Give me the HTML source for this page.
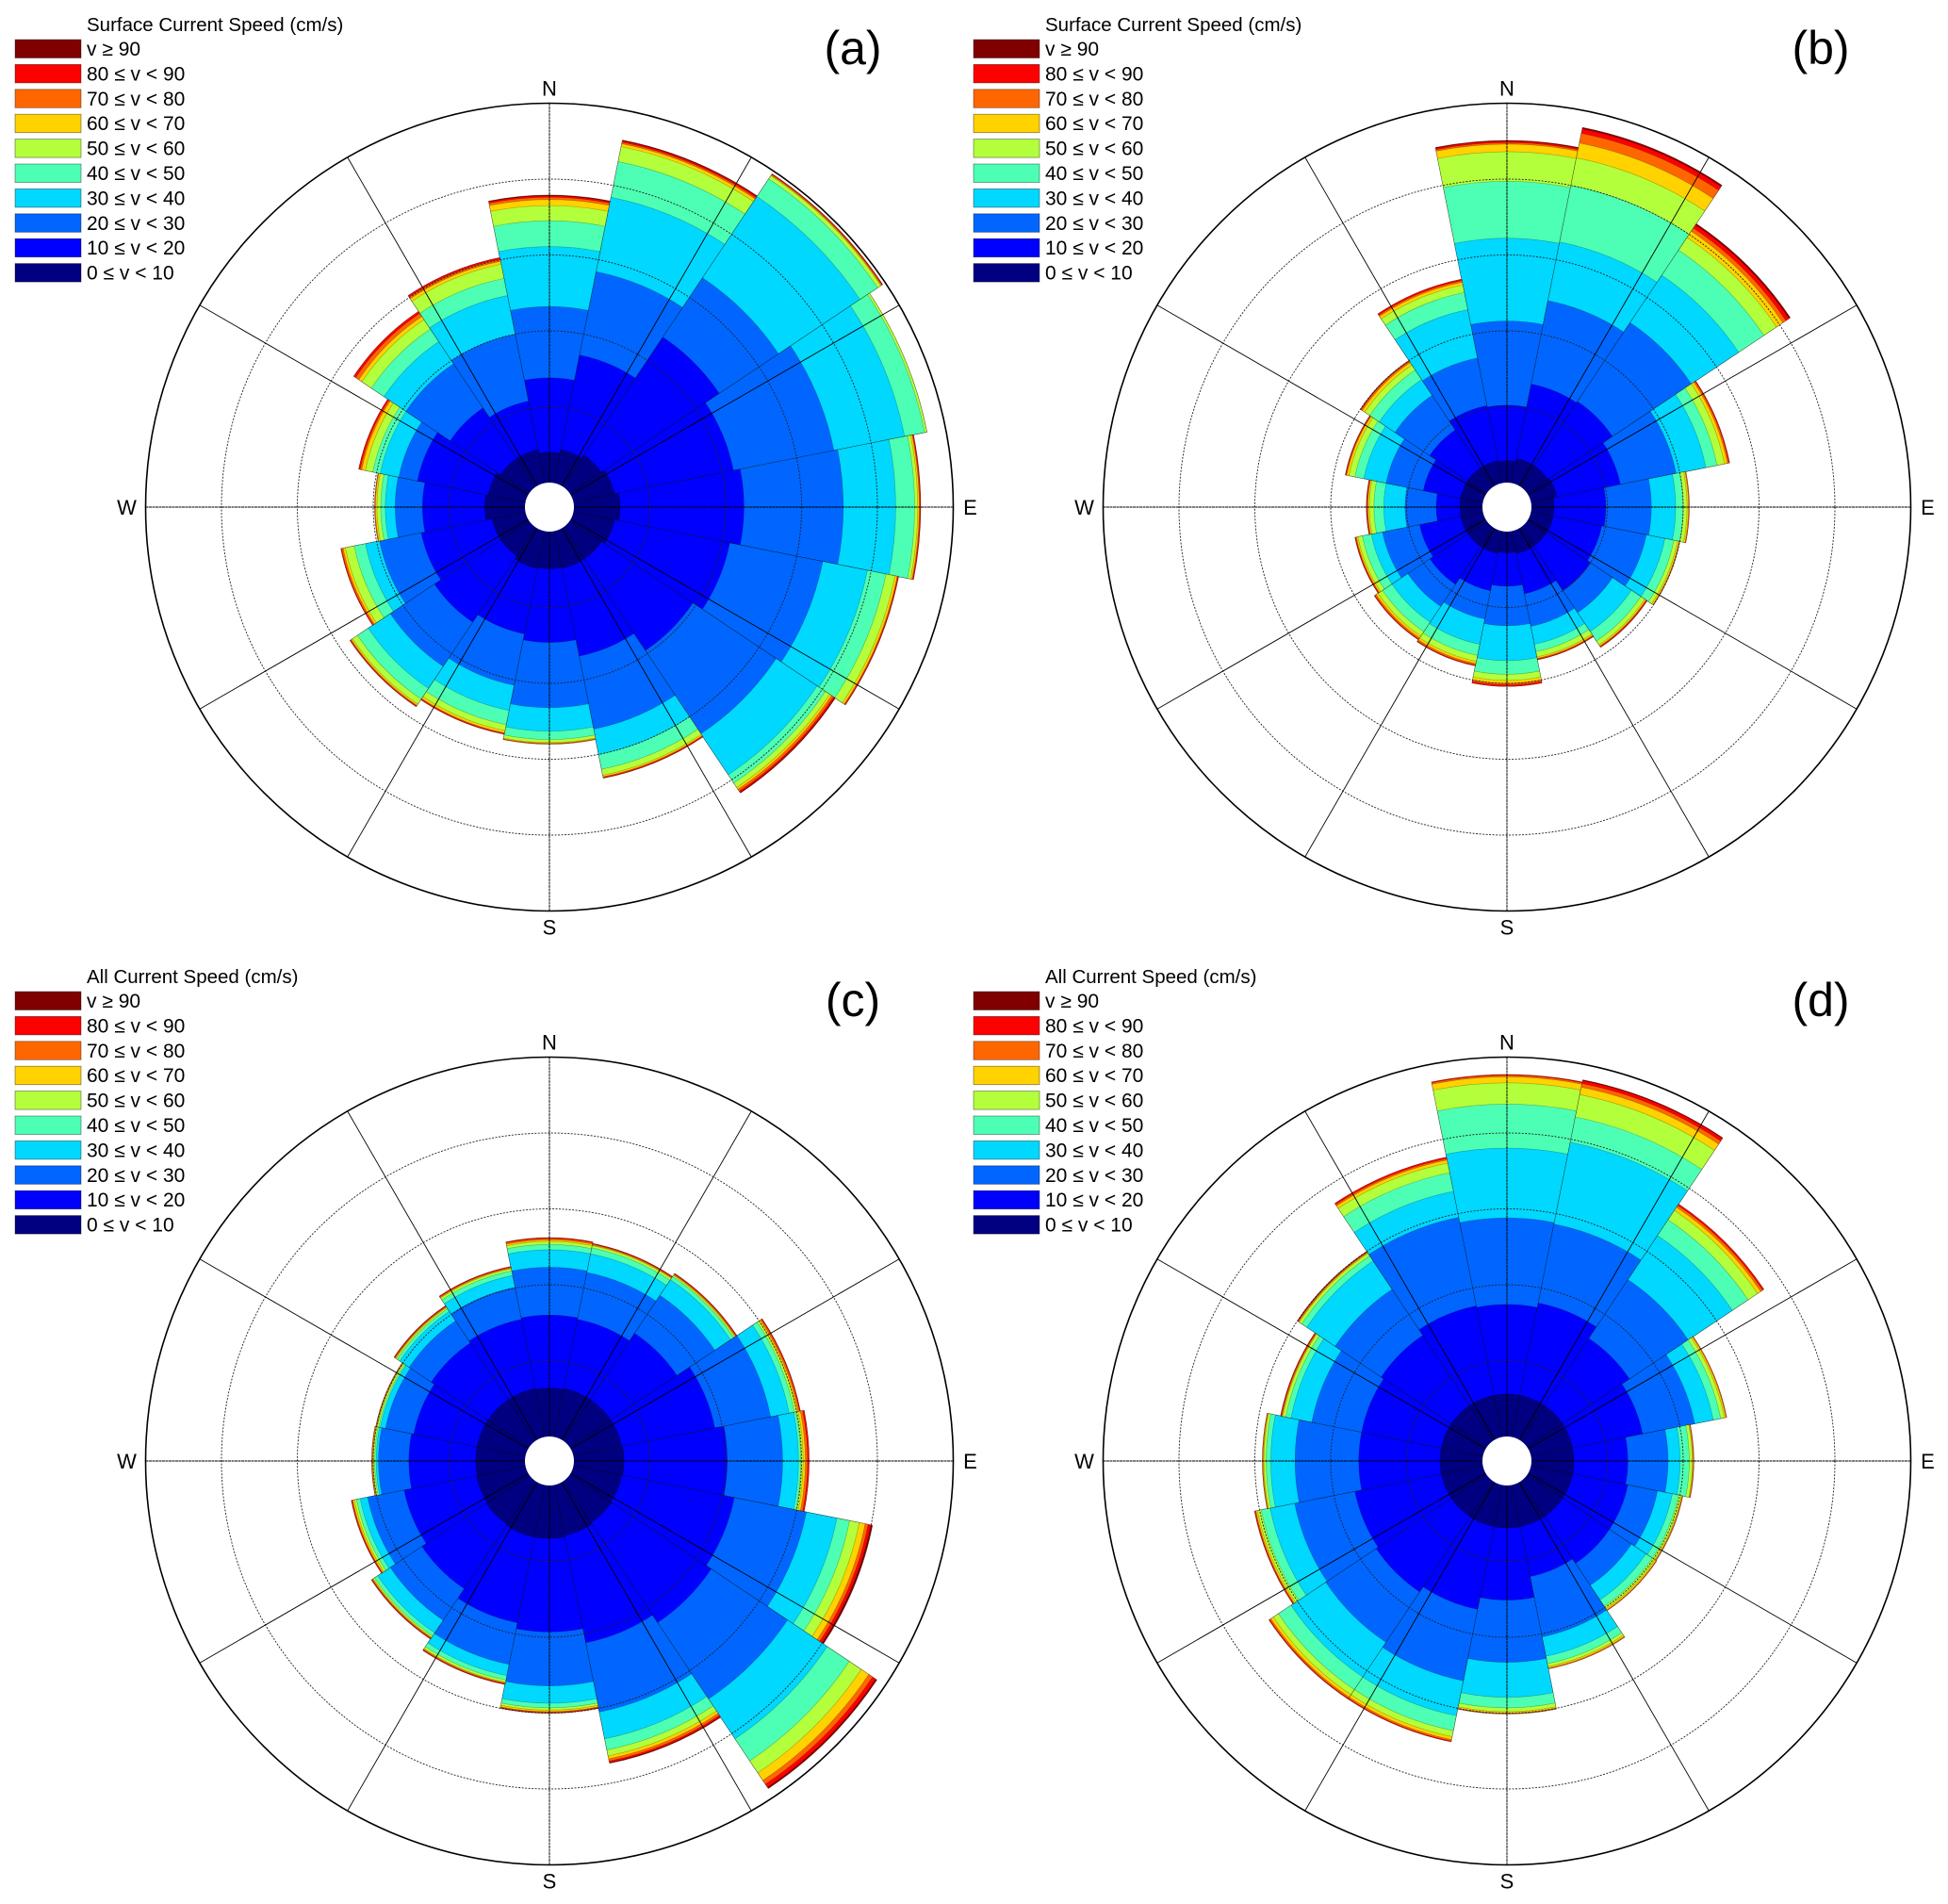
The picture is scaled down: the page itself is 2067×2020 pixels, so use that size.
<!DOCTYPE html>
<html><head><meta charset="utf-8"><style>
body{margin:0;background:#fff}
svg{display:block}
text{font-family:"Liberation Sans",Arial,sans-serif;fill:#000}
</style></head><body>
<svg id="fig" width="2067" height="2020" viewBox="0 0 2067 2020" xmlns="http://www.w3.org/2000/svg"></svg>
<script>
const directions = ["N","NNE","NE","ENE","E","ESE","SE","SSE","S","SSW","SW","WSW","W","WNW","NW","NNW"];
const speedClasses = ["0 \u2264 v < 10","10 \u2264 v < 20","20 \u2264 v < 30","30 \u2264 v < 40","40 \u2264 v < 50","50 \u2264 v < 60","60 \u2264 v < 70","70 \u2264 v < 80","80 \u2264 v < 90","v \u2265 90"];
const ringTicks = [1,2,3,4,5];
// cumulative frequency (ring units) per direction, per speed class
const panelA = [
[0.4,1.38,2.32,3.11,3.45,3.65,3.73,3.76,3.78,3.79],
[0.45,1.72,2.84,3.84,4.32,4.52,4.56,4.58,4.6,4.61],
[0.5,2.37,3.31,4.6,4.88,4.93,4.94,4.95,4.96,4.96],
[0.55,2.15,3.5,4.45,4.72,4.75,4.75,4.75,4.75,4.75],
[0.61,2.24,3.55,4.24,4.49,4.53,4.55,4.56,4.57,4.57],
[0.55,2.1,3.35,3.95,4.2,4.32,4.35,4.36,4.37,4.37],
[0.5,1.95,3.27,3.92,4.05,4.12,4.15,4.18,4.2,4.21],
[0.5,1.68,2.66,3.0,3.2,3.28,3.3,3.31,3.32,3.32],
[0.49,1.46,2.32,2.63,2.74,2.78,2.79,2.8,2.8,2.8],
[0.5,1.38,2.07,2.41,2.6,2.68,2.71,2.72,2.73,2.73],
[0.45,1.5,2.2,2.55,2.72,2.8,2.82,2.83,2.84,2.84],
[0.45,1.4,1.96,2.15,2.3,2.42,2.45,2.47,2.48,2.48],
[0.53,1.35,1.71,1.84,1.9,1.95,1.97,1.98,1.98,1.98],
[0.5,1.45,1.7,1.95,2.05,2.15,2.2,2.22,2.24,2.24],
[0.45,1.25,1.95,2.3,2.5,2.65,2.7,2.75,2.78,2.78],
[0.45,1.1,2.0,2.52,2.75,2.94,2.98,3.01,3.03,3.03]];
const panelB = [
[0.29,1.02,2.13,3.22,3.97,4.36,4.46,4.48,4.5,4.51],
[0.33,1.33,2.45,3.24,4.0,4.37,4.57,4.7,4.76,4.78],
[0.33,1.35,2.6,3.35,3.75,3.95,4.05,4.1,4.15,4.17],
[0.35,1.2,1.95,2.35,2.5,2.6,2.64,2.66,2.67,2.67],
[0.3,0.98,1.58,1.9,2.0,2.05,2.07,2.08,2.08,2.08],
[0.3,0.95,1.55,1.8,1.92,1.97,1.99,2.0,2.0,2.0],
[0.3,1.0,1.35,1.65,1.8,1.86,1.88,1.89,1.9,1.9],
[0.3,0.84,1.28,1.52,1.62,1.69,1.71,1.72,1.73,1.73],
[0.28,0.72,1.24,1.7,1.88,1.96,2.0,2.02,2.04,2.04],
[0.3,0.8,1.18,1.52,1.67,1.75,1.78,1.8,1.81,1.81],
[0.3,0.9,1.25,1.5,1.65,1.72,1.75,1.77,1.78,1.78],
[0.3,0.85,1.35,1.5,1.62,1.68,1.7,1.71,1.72,1.72],
[0.3,0.61,1.02,1.3,1.43,1.49,1.51,1.52,1.53,1.53],
[0.3,0.8,1.3,1.6,1.72,1.8,1.83,1.84,1.85,1.85],
[0.3,0.9,1.45,1.7,1.85,1.93,1.97,1.99,2.0,2.0],
[0.3,1.04,1.68,2.33,2.56,2.66,2.7,2.72,2.74,2.74]];
const panelC = [
[0.64,1.6,2.23,2.46,2.53,2.57,2.59,2.61,2.62,2.62],
[0.65,1.58,2.21,2.46,2.54,2.57,2.58,2.59,2.6,2.6],
[0.65,1.7,2.3,2.55,2.6,2.62,2.63,2.64,2.65,2.65],
[0.65,1.9,2.65,2.9,2.97,3.0,3.02,3.04,3.05,3.05],
[0.66,2.02,2.75,2.96,2.99,3.02,3.05,3.08,3.1,3.1],
[0.65,2.16,3.13,3.54,3.71,3.84,3.92,3.96,4.0,4.02],
[0.66,2.24,3.45,4.08,4.43,4.62,4.74,4.8,4.85,4.87],
[0.68,2.12,3.05,3.41,3.56,3.64,3.68,3.71,3.73,3.74],
[0.7,1.93,2.64,2.87,2.93,2.96,2.98,2.99,3.0,3.0],
[0.7,1.85,2.41,2.56,2.62,2.65,2.66,2.67,2.68,2.68],
[0.68,1.7,2.2,2.4,2.45,2.47,2.48,2.49,2.5,2.5],
[0.66,1.63,2.12,2.22,2.27,2.3,2.32,2.33,2.34,2.34],
[0.65,1.53,1.93,1.96,1.98,2.0,2.01,2.02,2.02,2.02],
[0.65,1.5,1.88,1.95,1.97,1.99,2.0,2.01,2.01,2.01],
[0.65,1.55,1.9,2.05,2.09,2.11,2.12,2.13,2.14,2.14],
[0.65,1.58,2.01,2.17,2.23,2.26,2.27,2.28,2.29,2.29]];
const panelD = [
[0.56,1.74,2.88,3.8,4.38,4.66,4.74,4.76,4.77,4.77],
[0.56,1.8,2.86,3.96,4.3,4.6,4.7,4.75,4.79,4.8],
[0.56,1.62,2.55,3.25,3.5,3.65,3.7,3.73,3.75,3.75],
[0.56,1.5,2.2,2.45,2.55,2.6,2.62,2.63,2.63,2.63],
[0.56,1.27,1.8,1.96,2.08,2.12,2.13,2.14,2.14,2.14],
[0.56,1.3,1.7,1.9,1.98,2.02,2.03,2.04,2.04,2.04],
[0.56,1.3,1.65,1.88,1.98,2.02,2.04,2.05,2.05,2.05],
[0.56,1.23,2.04,2.3,2.4,2.44,2.46,2.47,2.47,2.47],
[0.56,1.51,2.33,2.79,2.93,2.98,3.0,3.01,3.01,3.01],
[0.56,1.67,2.63,3.1,3.3,3.38,3.42,3.44,3.45,3.45],
[0.56,1.75,2.55,3.1,3.3,3.38,3.42,3.44,3.45,3.45],
[0.56,1.72,2.53,2.86,2.98,3.03,3.05,3.06,3.07,3.07],
[0.56,1.63,2.47,2.79,2.85,2.88,2.89,2.9,2.9,2.9],
[0.56,1.63,2.3,2.58,2.65,2.69,2.7,2.71,2.72,2.72],
[0.56,1.67,2.4,2.85,2.93,2.97,2.98,2.99,3.0,3.0],
[0.56,1.76,2.95,3.3,3.55,3.68,3.72,3.74,3.76,3.76]];
const panelTitles = ["Surface Current Speed (cm/s)","Surface Current Speed (cm/s)","All Current Speed (cm/s)","All Current Speed (cm/s)"];
const panelLetters = ["(a)","(b)","(c)","(d)"];
const colors = ["#000080","#0000ff","#0066ff","#00d8ff","#4dffb4","#b4ff3c","#ffd200","#ff6600","#ff0000","#800000"];

const NS="http://www.w3.org/2000/svg";
const svg=document.getElementById('fig');
function mk(tag,attrs,parent){const e=document.createElementNS(NS,tag);for(const k in attrs)e.setAttribute(k,attrs[k]);(parent||svg).appendChild(e);return e;}
const HOLE=26, STEP=80.5, WIDTH=22.5;
function rScale(v){return HOLE+v*STEP;}
function pt(r,deg){const a=deg*Math.PI/180;return [r*Math.sin(a),-r*Math.cos(a)];}
function sector(r0,r1,a0,a1){
  const p0=pt(r0,a0),p1=pt(r1,a0),p2=pt(r1,a1),p3=pt(r0,a1);
  return `M${p0[0]},${p0[1]}L${p1[0]},${p1[1]}A${r1},${r1} 0 0 1 ${p2[0]},${p2[1]}L${p3[0]},${p3[1]}A${r0},${r0} 0 0 0 ${p0[0]},${p0[1]}Z`;
}
const panels=[
 {data:panelA,cx:583,cy:538,lx:16,ly:0,letterX:905},
 {data:panelB,cx:1599,cy:538,lx:1033,ly:0,letterX:1932},
 {data:panelC,cx:583,cy:1550,lx:16,ly:1010,letterX:905},
 {data:panelD,cx:1599,cy:1550,lx:1033,ly:1010,letterX:1932}];
panels.forEach((p,pi)=>{
  const g=mk('g',{transform:`translate(${p.cx},${p.cy})`});
  
  
  const outer=rScale(5);
  mk('circle',{cx:0,cy:0,r:outer,fill:'#fff',stroke:'none'},g);
  p.data.forEach((cum,di)=>{
    const ang=di*22.5;
    for(let k=cum.length-1;k>=0;k--){
      const r1=rScale(cum[k]);
      const path=mk('path',{d:sector(HOLE,r1,ang-WIDTH/2,ang+WIDTH/2),fill:colors[k],stroke:'rgba(0,0,0,0.3)','stroke-width':0.6},g);
      
      
    }
  });
  ringTicks.forEach(t=>{
    const c=mk('circle',{cx:0,cy:0,r:rScale(t),fill:'none',stroke:t===5?'#000':'#222','stroke-width':t===5?1.6:0.9,'stroke-dasharray':t===5?'none':'2,1.5'},g);
    
    
  });
  for(let a=0;a<360;a+=30){
    const q0=pt(HOLE,a),q1=pt(outer,a);
    const axis=a%90===0;
    const l=mk('line',{x1:axis?pt(outer,a+180)[0]:q0[0],y1:axis?pt(outer,a+180)[1]:q0[1],x2:q1[0],y2:q1[1],stroke:'#000','stroke-width':0.9,'stroke-dasharray':axis?'2,1.5':'none'},g);
    
    
  }
  mk('circle',{cx:0,cy:0,r:HOLE,fill:'#fff',stroke:'none'},g);
  const fs=22;
  const lab=[["N",p.cx,p.cy-outer-8],["S",p.cx,p.cy+outer+25],["W",p.cx-outer-20,p.cy+8],["E",p.cx+outer+18,p.cy+8]];
  lab.forEach(L=>{const t=mk('text',{x:L[1],y:L[2],'font-size':fs,'text-anchor':'middle'});t.textContent=L[0];
    
    });
  const lt=mk('text',{x:p.letterX,y:p.ly+68,'font-size':50,'text-anchor':'middle'});lt.textContent=panelLetters[pi];
  
  
  const lg=mk('g',{});
  
  
  const tx=p.lx+76;
  const tt=mk('text',{x:tx,y:p.ly+33,'font-size':20.5},lg);tt.textContent=panelTitles[pi];
  
  
  for(let i=0;i<10;i++){
    const k=9-i, y=p.ly+42+i*26.4;
    const sw=mk('rect',{x:p.lx,y:y,width:70,height:19.5,fill:colors[k],stroke:'rgba(0,0,0,0.45)','stroke-width':0.8},lg);
    
    
    const te=mk('text',{x:tx,y:y+17,'font-size':21},lg);te.textContent=speedClasses[k];
    
    
  }
});
</script>
</body></html>
